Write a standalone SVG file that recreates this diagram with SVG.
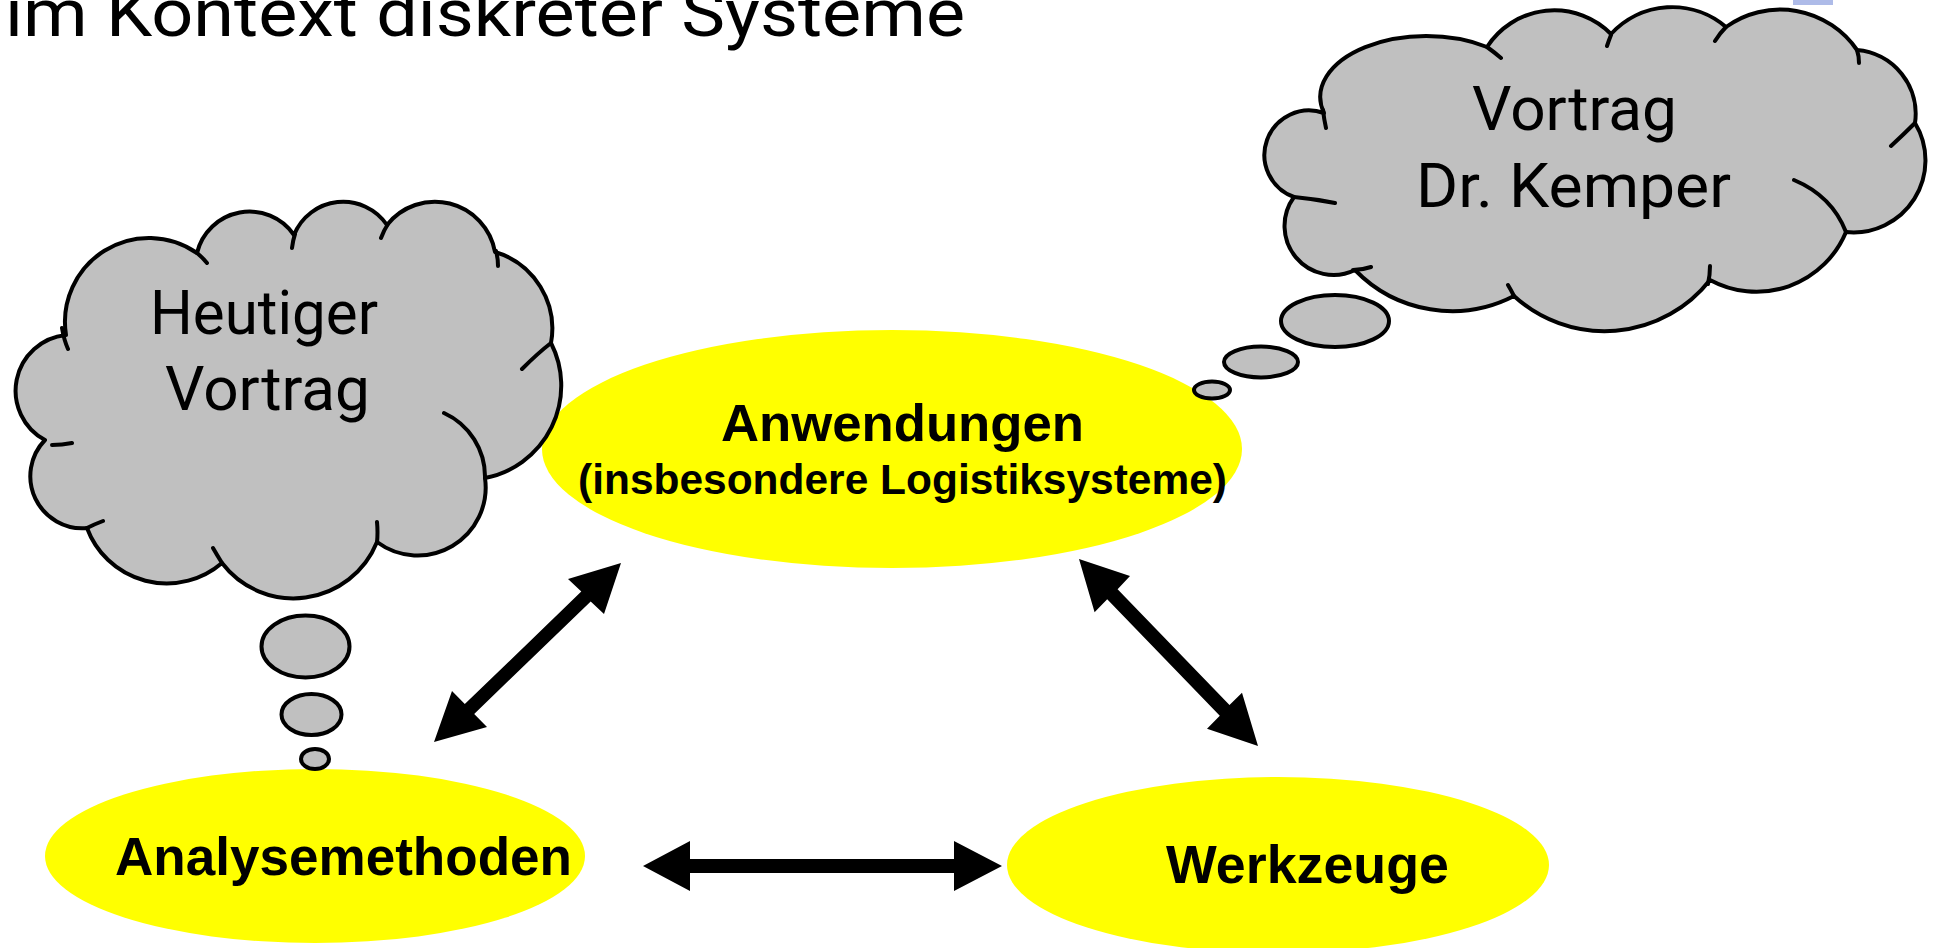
<svg xmlns="http://www.w3.org/2000/svg" width="1946" height="948" viewBox="0 0 1946 948">
<style>
.thin{font-family:Roboto,"DejaVu Sans",sans-serif;font-weight:400;fill:#000}
.lbl{font-family:"Liberation Sans",Arial,sans-serif;font-weight:bold;fill:#000}
.ell{fill:#FFFF00;stroke:none}
.cloud{fill:#C0C0C0;stroke:#000;stroke-width:4;stroke-linejoin:round}
.tick{fill:none;stroke:#000;stroke-width:4;stroke-linecap:round}
.bub{fill:#C0C0C0;stroke:#000;stroke-width:4}
.arr{fill:#000;stroke:none}
</style>
<rect width="1946" height="948" fill="#fff"/>
<rect x="1793" y="0" width="40" height="5" fill="#aebbe8"/>
<g id="title">
<text class="thin" x="5" y="36" font-size="67" textLength="960" lengthAdjust="spacingAndGlyphs">im Kontext diskreter Systeme</text>
</g>
<g id="node-anwendungen">
<ellipse class="ell" cx="892" cy="449" rx="350" ry="119"/>
<text class="lbl" x="721" y="441" font-size="52" textLength="363" lengthAdjust="spacingAndGlyphs">Anwendungen</text>
<text class="lbl" x="578" y="494" font-size="42" textLength="649" lengthAdjust="spacingAndGlyphs">(insbesondere Logistiksysteme)</text>
</g>
<g id="node-analysemethoden">
<ellipse class="ell" cx="315" cy="856" rx="270" ry="87"/>
<text class="lbl" x="115" y="875" font-size="53" textLength="457" lengthAdjust="spacingAndGlyphs">Analysemethoden</text>
</g>
<g id="node-werkzeuge">
<ellipse class="ell" cx="1278" cy="865" rx="271" ry="88"/>
<text class="lbl" x="1166" y="883" font-size="53" textLength="283" lengthAdjust="spacingAndGlyphs">Werkzeuge</text>
</g>
<g id="cloud-heutiger-vortrag">
<path class="cloud" d="M66 335 A84 84 0 0 1 197 253 A54 54 0 0 1 294 235 A53 53 0 0 1 387 225 A61 61 0 0 1 495 252 A80 80 0 0 1 551 343 A94 94 0 0 1 485 478 A68 68 0 0 1 377 542 A90 90 0 0 1 222 563 A85 85 0 0 1 87 528 A52 52 0 0 1 45 440 A56 56 0 0 1 66 335 Z"/>
<path class="tick" d="M62 328 Q64 340 68 349 M197 253 Q202 257 207 263 M295 234 Q293 240 292 248 M388 224 Q384 230 381 238 M496 251 Q498 258 498 266 M551 343 Q538 353 522 369 M444 413 A70 70 0 0 1 485 478 M377 522 Q378 532 377 543 M222 563 Q217 555 213 548 M87 528 Q95 524 103 521 M72 443 Q62 445 52 445"/>
<ellipse class="bub" cx="305.5" cy="646.5" rx="44" ry="31"/>
<ellipse class="bub" cx="311.5" cy="714.5" rx="30" ry="20.5"/>
<ellipse class="bub" cx="315" cy="759" rx="14" ry="10"/>
<text class="thin" x="150" y="334" font-size="62" textLength="228" lengthAdjust="spacingAndGlyphs">Heutiger</text>
<text class="thin" x="165" y="410" font-size="62" textLength="205" lengthAdjust="spacingAndGlyphs">Vortrag</text>
</g>
<g id="cloud-vortrag-kemper">
<path class="cloud" d="M1324 113 A106 61 0 0 1 1487 47 A80 80 0 0 1 1611 34 A83 83 0 0 1 1726 27 A93 93 0 0 1 1857 50 A64 64 0 0 1 1915 123 A72 72 0 0 1 1846 232 A97 97 0 0 1 1710 280 A134 134 0 0 1 1514 296 A135 135 0 0 1 1355 270 A49 49 0 0 1 1294 197 A44 44 0 0 1 1324 113 Z"/>
<path class="tick" d="M1323 110 Q1324 119 1326 128 M1487 47 Q1494 52 1501 58 M1611 35 Q1609 40 1607 46 M1726 27 Q1720 33 1715 41 M1857 50 Q1859 56 1859 63 M1915 123 Q1904 134 1891 146 M1794 180 Q1832 196 1846 232 M1710 266 Q1710 275 1708 284 M1514 296 Q1511 290 1508 285 M1371 267 Q1362 270 1353 270 M1335 203 Q1315 199 1294 197"/>
<ellipse class="bub" cx="1335" cy="321" rx="54" ry="26"/>
<ellipse class="bub" cx="1261" cy="362" rx="37" ry="15.5"/>
<ellipse class="bub" cx="1212" cy="390" rx="18" ry="8.5"/>
<text class="thin" x="1472" y="130" font-size="62" textLength="205" lengthAdjust="spacingAndGlyphs">Vortrag</text>
<text class="thin" x="1416" y="207" font-size="62" textLength="315" lengthAdjust="spacingAndGlyphs">Dr. Kemper</text>
</g>
<g id="connectors">
<polygon class="arr" points="643,866 690,841 690,859 954,859 954,841 1002,866 954,891 954,873 690,873 690,891"/>
<polygon class="arr" points="434,742 452,691 464.8,704.1 581.3,591.6 568,579 621,563 604,614 590.7,601.4 474.2,713.9 487,727"/>
<polygon class="arr" points="1079,559 1130,576 1117.6,589.3 1229.5,705 1242,692.7 1258,746 1207,728.7 1219.8,715.7 1107.2,599.3 1094.6,612.3"/>
</g>
</svg>
